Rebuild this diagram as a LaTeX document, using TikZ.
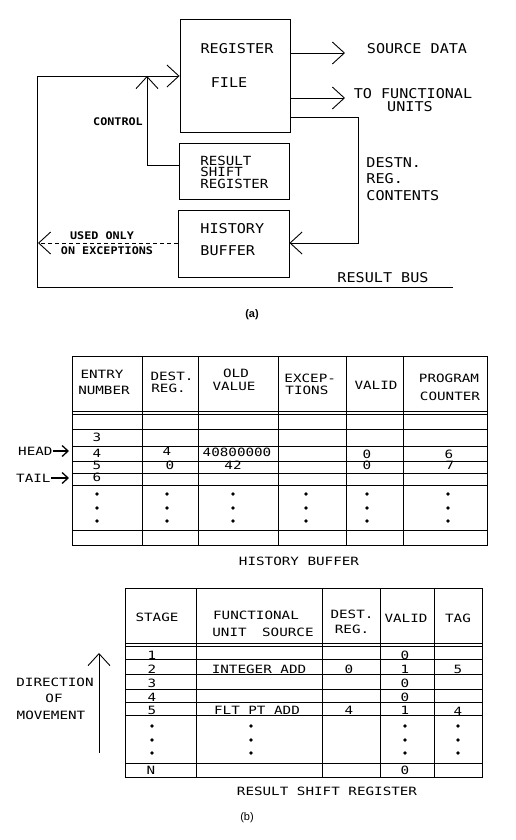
\documentclass[tikz,border=0pt]{standalone}
\usepackage{fontspec}
\newfontfamily\pfa[FakeStretch=1.12]{DejaVu Sans Mono}
\newfontfamily\pft[FakeStretch=1.25]{DejaVu Sans Mono}
\newfontfamily\capf{Liberation Sans}
\usetikzlibrary{arrows.meta}
\begin{document}
\begin{tikzpicture}[x=1pt,y=-1pt,line width=0.9pt,
  ta/.style={font=\pfa\fontsize{13.5}{14}\selectfont,inner sep=0pt},
  tas/.style={font=\pfa\fontsize{12.6}{13}\selectfont,inner sep=0pt},
  tb/.style={font=\pfa\bfseries\fontsize{10.5}{11}\selectfont,inner sep=0pt},
  tt/.style={font=\pft\fontsize{11.4}{12}\selectfont,inner sep=0pt},
  box/.style={draw,rectangle,inner sep=0pt},
  barb/.style={-{Straight Barb[length=12pt,width=22pt,line width=0.9pt]}},
  smallbarb/.style={line width=1.3pt,-{Straight Barb[length=6pt,width=11pt,line width=1.3pt]}},
  grid/.style={line width=0.8pt}
]
\useasboundingbox (0,0) rectangle (516,840);

% ---------------- (a) ----------------
\node[box,minimum width=110pt,minimum height=113pt] (rf) at (235,75.5) {};
\node[box,minimum width=110pt,minimum height=56pt] (rsr) at (234,171) {};
\node[box,minimum width=111pt,minimum height=67pt] (hb) at (233.5,243.5) {};

\node[ta] (t-reg) at (237,49) {REGISTER};
\node[ta] (t-file) at (229,83) {FILE};
\node[tas,anchor=west] (t-rsr1) at (200,160.5) {RESULT};
\node[tas,anchor=west] (t-rsr2) at (200,172) {SHIFT};
\node[tas,anchor=west] (t-rsr3) at (200,183.5) {REGISTER};
\node[ta,anchor=west] (t-hb1) at (200,229) {HISTORY};
\node[ta,anchor=west] (t-hb2) at (200,251) {BUFFER};

\node[ta] (t-sd) at (417,49) {SOURCE DATA};
\node[ta] (t-fu1) at (413,94) {TO FUNCTIONAL};
\node[ta] (t-fu2) at (410,106.5) {UNITS};
\node[ta,anchor=west] (t-d1) at (366,163) {DESTN.};
\node[ta,anchor=west] (t-d2) at (366,179) {REG.};
\node[ta,anchor=west] (t-d3) at (366,196) {CONTENTS};
\node[ta] (t-rb) at (383,278) {RESULT BUS};
\node[tb] (t-ctl) at (118,122) {CONTROL};
\node[tb] (t-ex1) at (102,236) {USED ONLY};
\node[tb] (t-ex2) at (107,251) {ON EXCEPTIONS};
\node[font=\capf\bfseries\fontsize{11}{12}\selectfont,inner sep=0pt] (cap-a) at (252,315) {(a)};

\coordinate (sd) at (345,53);
\coordinate (fu) at (345,98);
\coordinate (dr1) at (358,117);
\coordinate (dr2) at (358,243);
\coordinate (rb) at (453,287);
\coordinate (rbl) at (37,287);
\coordinate (rbt) at (37,76);
\coordinate (c1) at (147,165);
\coordinate (c2) at (147,76);
\coordinate (ex) at (38,243);

\draw[barb] (rf.east |- sd) -- (sd);
\draw[barb] (rf.east |- fu) -- (fu);
\draw[barb] (rf.east |- dr1) -- (dr1) -- (dr2) -- (dr2 -| hb.east);
\draw[barb] (rb) -- (rbl) -- (rbt) -- (rbt -| rf.west);
\draw[barb] (rsr.west |- c1) -- (c1) -- (c2);
\draw[barb,dash pattern=on 4pt off 3pt] (hb.west |- ex) -- (ex);

% ---------------- history buffer table ----------------
\draw[grid] (72,356) rectangle (487,545);
\foreach \x in {142,198.5,278.5,346,403} \draw[grid] (\x,356) -- (\x,545);
\foreach \y in {411,414.5,429,446.5,461.5,473,485,530.5} \draw[grid] (72,\y) -- (487,\y);

\node[tt] (h-en1) at (102,374) {ENTRY};
\node[tt] (h-en2) at (104,390) {NUMBER};
\node[tt] (h-dr1) at (172,376) {DEST.};
\node[tt] (h-dr2) at (168.5,388.5) {REG.};
\node[tt] (h-ov1) at (236,373) {OLD};
\node[tt] (h-ov2) at (234,386.5) {VALUE};
\node[tt,anchor=west] (h-ex1) at (284,378) {EXCEP-};
\node[tt,anchor=west] (h-ex2) at (285,390) {TIONS};
\node[tt] (h-va) at (376,385) {VALID};
\node[tt] (h-pc1) at (449,378) {PROGRAM};
\node[tt] (h-pc2) at (450,396) {COUNTER};

\node[tt] (h-r3) at (97,437.5) {3};
\node[tt] (h-r4) at (97,453) {4};
\node[tt] (h-r5) at (97,465) {5};
\node[tt] (h-r6) at (97,477.5) {6};
\node[tt] (h-d4) at (167,451) {4};
\node[tt] (h-o4) at (237,452) {40800000};
\node[tt] (h-v4) at (367,454) {0};
\node[tt] (h-p4) at (449,454) {6};
\node[tt] (h-d5) at (170,465) {0};
\node[tt] (h-o5) at (233,465) {42};
\node[tt] (h-v5) at (367,465) {0};
\node[tt] (h-p5) at (450,465) {7};

\foreach \x in {97,167,233,306,367,448}
  \foreach \y in {494,508,521} \fill (\x,\y) circle (1.8pt);

\node[tt,anchor=east] (head) at (53,451) {HEAD};
\node[tt,anchor=east] (tail) at (51,478) {TAIL};
\coordinate (headtip) at (69,451);
\coordinate (tailtip) at (69,478);
\draw[smallbarb] (head.east) -- (headtip);
\draw[smallbarb] (tail.east) -- (tailtip);

\node[tt] (hbcap) at (299,561) {HISTORY BUFFER};

% ---------------- result shift register table ----------------
\draw[grid] (125,588) rectangle (482.5,777);
\foreach \x in {196,322.5,380,434} \draw[grid] (\x,588) -- (\x,777);
\foreach \y in {643,646.5,659,674.5,689,702.5,715.5,763} \draw[grid] (125,\y) -- (482.5,\y);

\node[tt] (s-st) at (157,617) {STAGE};
\node[tt] (s-fu1) at (256,615) {FUNCTIONAL};
\node[tt] (s-fu2) at (263,632) {UNIT\hspace{0.6em} SOURCE};
\node[tt] (s-dr1) at (352,614) {DEST.};
\node[tt] (s-dr2) at (352,629) {REG.};
\node[tt] (s-va) at (406,618) {VALID};
\node[tt] (s-tg) at (458,618) {TAG};

\node[tt] (s-1) at (152,655) {1};
\node[tt] (s-1v) at (405,655) {0};
\node[tt] (s-2) at (152,669.5) {2};
\node[tt] (s-2f) at (259,669.5) {INTEGER ADD};
\node[tt] (s-2d) at (349,669.5) {0};
\node[tt] (s-2v) at (405,669.5) {1};
\node[tt] (s-2t) at (458,669.5) {5};
\node[tt] (s-3) at (152,683.5) {3};
\node[tt] (s-3v) at (405,683.5) {0};
\node[tt] (s-4) at (152,697) {4};
\node[tt] (s-4v) at (405,697) {0};
\node[tt] (s-5) at (152,710.5) {5};
\node[tt] (s-5f) at (257,710.5) {FLT PT ADD};
\node[tt] (s-5d) at (349,710) {4};
\node[tt] (s-5v) at (405,710.5) {1};
\node[tt] (s-5t) at (458,711) {4};
\node[tt] (s-n) at (151,770) {N};
\node[tt] (s-nv) at (405,770) {0};

\foreach \x in {152,251,405,458}
  \foreach \y in {726,740,753} \fill (\x,\y) circle (1.8pt);

\coordinate (dm0) at (99,753);
\coordinate (dm1) at (99,653);
\draw[barb] (dm0) -- (dm1);
\node[tt] (dir1) at (55,682) {DIRECTION};
\node[tt] (dir2) at (54,698) {OF};
\node[tt] (dir3) at (51,715) {MOVEMENT};

\node[tt] (rsrcap) at (327,791) {RESULT SHIFT REGISTER};
\node[font=\capf\fontsize{11}{12}\selectfont,inner sep=0pt] (cap-b) at (247,818) {(b)};
\end{tikzpicture}
\end{document}
